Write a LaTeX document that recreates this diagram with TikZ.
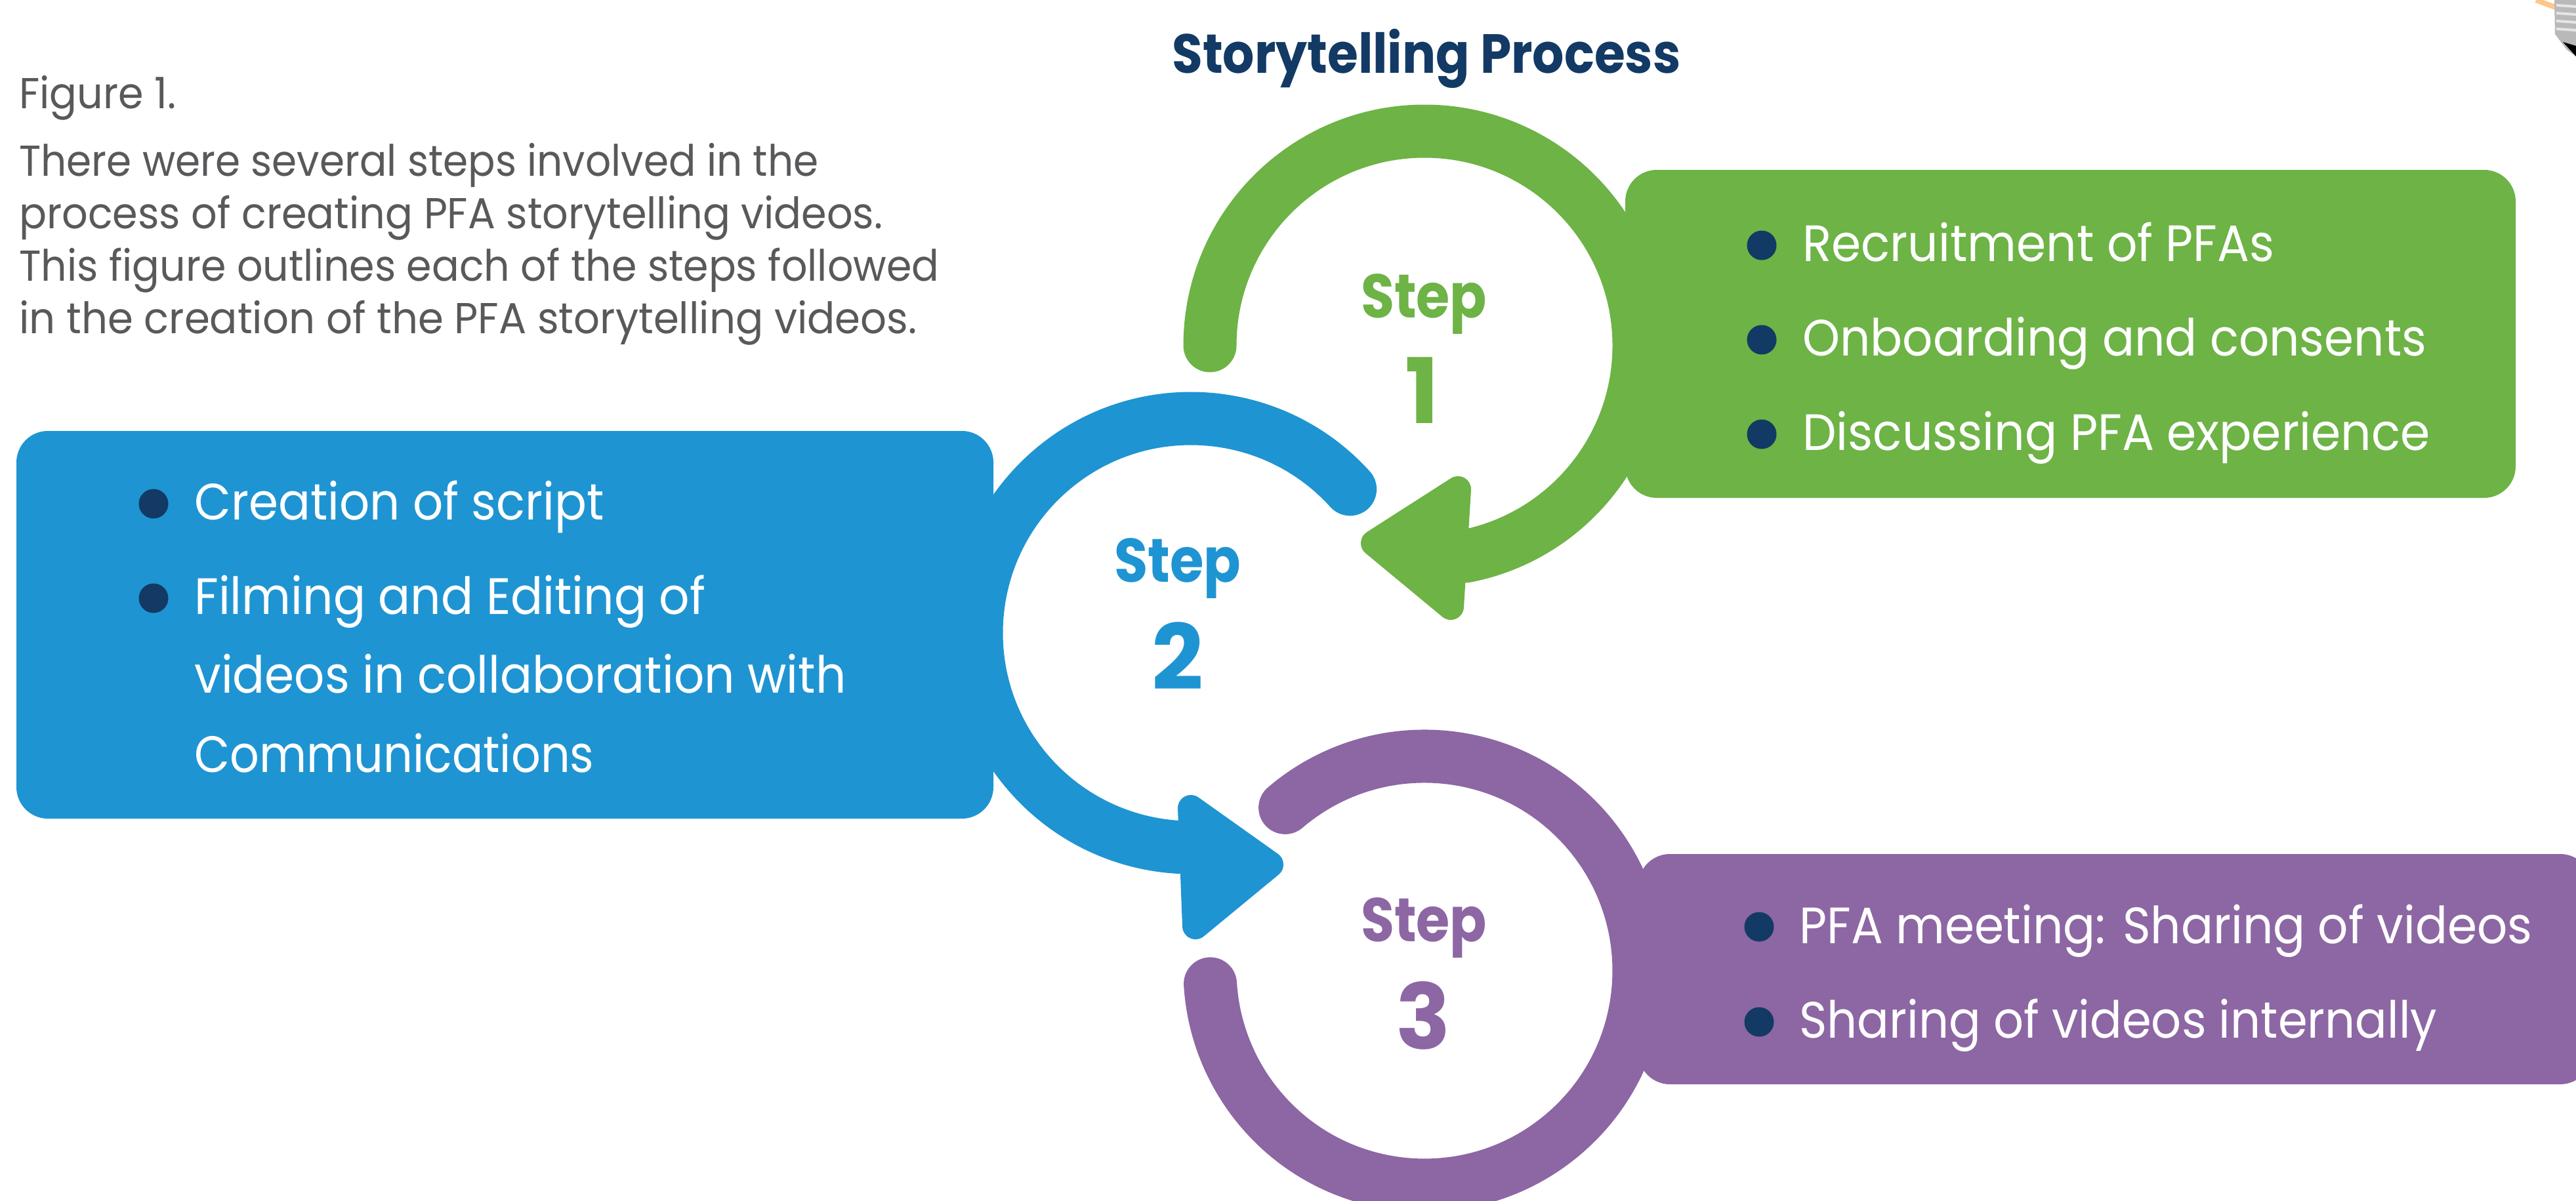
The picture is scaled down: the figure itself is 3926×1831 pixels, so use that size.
\documentclass[tikz,border=0pt]{standalone}
\usepackage{fontspec}
\usepackage{graphicx}
\setmainfont{Poppins}
\definecolor{stepgreen}{HTML}{6DB345}
\definecolor{stepblue}{HTML}{1F94D2}
\definecolor{steppurple}{HTML}{8D66A4}
\definecolor{navy}{HTML}{123A64}
\definecolor{captiongray}{HTML}{58595B}
% stretch a line of text to a given width, keeping its height
\newcommand{\fitw}[2]{\resizebox{#1}{\height}{#2}}
\begin{document}
\begin{tikzpicture}[x=0.5pt,y=-0.5pt,
  ring/.style={line width=40.5pt, line cap=round},
  head/.style={line width=20pt, line join=round},
  panel/.style={rounded corners=24pt},
  caption/.style={anchor=base west, inner sep=0pt, text=captiongray,
    font=\fontsize{33}{40}\selectfont},
  item/.style={anchor=base west, inner sep=0pt, text=white,
    font=\fontsize{39}{47}\selectfont},
  dot/.style={circle, fill=navy, inner sep=0pt, minimum size=22.5pt},
  stepword/.style={anchor=base, inner sep=0pt,
    font=\fontsize{47}{56}\selectfont\bfseries},
  stepnum/.style={anchor=base, inner sep=0pt,
    font=\fontsize{69}{80}\selectfont\bfseries}
]
\useasboundingbox (0,0) rectangle (3926,1831);
\fill[white] (0,0) rectangle (3926,1831);

% ---- caption and title ----
\node[caption] (fig) at (29,165) {\fitw{119.5pt}{Figure 1.}};
\node[caption] (cap1) at (29,268) {\fitw{609pt}{There were several steps involved in the}};
\node[caption] (cap2) at (29,348) {\fitw{658pt}{process of creating PFA storytelling videos.}};
\node[caption] (cap3) at (29,428) {\fitw{701pt}{This figure outlines each of the steps followed}};
\node[caption] (cap4) at (29,508) {\fitw{684pt}{in the creation of the PFA storytelling videos.}};
\node[anchor=base west, inner sep=0pt, text=navy,
  font=\fontsize{42}{50}\selectfont\bfseries] (title) at (1786,111)
  {\fitw{387.5pt}{Storytelling Process}};

% ---- step 1 loop ----
\draw[ring, stepgreen] (1844,527) arc[start angle=180, end angle=438.9, radius=327];
\filldraw[head, stepgreen] (2094,828) -- (2222,746) -- (2211,925) -- cycle;

% ---- step 2 loop ----
\draw[ring, stepblue] (2057.6,745.8) arc[start angle=-42.1, end angle=-270, radius=327];
\filldraw[head, stepblue] (1936,1318) -- (1815,1232) -- (1822,1412) -- cycle;

% ---- step 3 loop ----
\draw[ring, steppurple] (1958.6,1231.3) arc[start angle=229.5, end angle=536.5, radius=327];

% ---- panels ----
\fill[panel, stepgreen] (2477,259) rectangle (3834,759);
\fill[panel, stepblue] (25,657) rectangle (1514,1248);
\fill[panel, steppurple] (2497,1302) rectangle (3950,1653);

% ---- step labels ----
\node[stepword, text=stepgreen] (s1) at (2170,484) {\fitw{96pt}{Step}};
\node[stepnum, text=stepgreen] (n1) at (2167,645) {1};
\node[stepword, text=stepblue] (s2) at (1795,887) {\fitw{96.5pt}{Step}};
\node[stepnum, text=stepblue] (n2) at (1795,1051) {2};
\node[stepword, text=steppurple] (s3) at (2170,1435) {\fitw{96pt}{Step}};
\node[stepnum, text=steppurple] (n3) at (2169,1599) {3};

% ---- step 1 items ----
\node[dot] (g1d) at (2685,374) {};
\node[item] (g1) at (2747,398) {\fitw{359.5pt}{Recruitment of PFAs}};
\node[dot] (g2d) at (2685,518) {};
\node[item] (g2) at (2747,542) {\fitw{475.5pt}{Onboarding and consents}};
\node[dot] (g3d) at (2685,662) {};
\node[item] (g3) at (2747,686) {\fitw{478pt}{Discussing PFA experience}};

% ---- step 2 items ----
\node[dot] (b1d) at (234,768) {};
\node[item] (b1) at (296,792) {\fitw{312pt}{Creation of script}};
\node[dot] (b2d) at (234,912) {};
\node[item] (b2) at (296,936) {\fitw{389.5pt}{Filming and Editing of}};
\node[item] (b3) at (296,1056) {\fitw{496.5pt}{videos in collaboration with}};
\node[item] (b4) at (296,1177) {\fitw{304.5pt}{Communications}};

% ---- step 3 items ----
\node[dot] (p1d) at (2681,1413) {};
\node[item] (p1) at (2742,1438) {\fitw{558.5pt}{PFA meeting: Sharing of videos}};
\node[dot] (p2d) at (2681,1558) {};
\node[item] (p2) at (2742,1582) {\fitw{486pt}{Sharing of videos internally}};

% ---- lamp base in the corner ----
\draw[orange!45, line width=4pt] (3865,0) -- (3897,12);
\fill[gray!55] (3893,0) -- (3926,0) -- (3926,86) -- (3912,76) -- (3894,52) -- cycle;
\foreach \yy in {8,20,32,44}
  \draw[gray!20, line width=2pt] (3896,\yy) -- (3926,\yy+2);
\fill[black] (3906,64) -- (3926,70) -- (3926,86) -- cycle;
\end{tikzpicture}
\end{document}
